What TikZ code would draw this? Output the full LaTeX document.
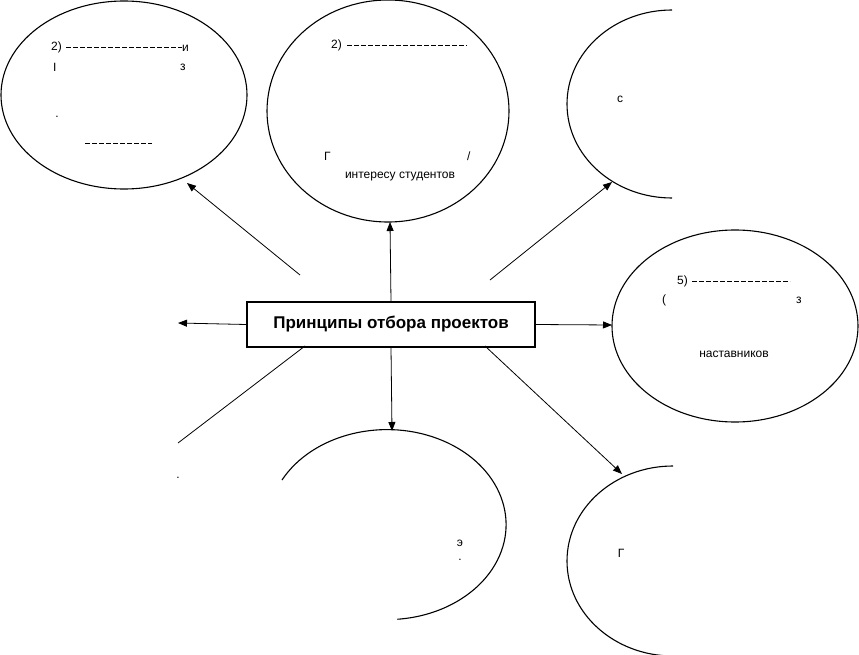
\documentclass[tikz,border=0pt]{standalone}
\usepackage{fontspec}
\setmainfont{Liberation Sans}
\usetikzlibrary{arrows.meta}
\begin{document}
\begin{tikzpicture}[x=1pt,y=-1pt,
  ell/.style={line width=1.1pt},
  conn/.style={line width=0.8pt},
  arr/.style={conn,-{Triangle[length=9pt,width=7pt]}},
  box/.style={draw,line width=1.3pt,minimum width=288pt,minimum height=45pt,inner sep=0pt,font=\bfseries\fontsize{17}{20}\selectfont},
  frag/.style={inner sep=0pt,font=\fontsize{12}{14}\selectfont},
  dashline/.style={dash pattern=on 5pt off 2pt,line width=0.7pt}]
\useasboundingbox (0,0) rectangle (859,655);
% central box
\node[box] (c) at (391,324.5) {Принципы отбора проектов};
% ellipses
\draw[ell] (124,95) ellipse [x radius=123,y radius=94];
\coordinate (e1) at (187,183);
\draw[ell] (388,111) ellipse [x radius=121,y radius=111];
\coordinate (e2) at (390,222);
\draw[ell] (672,10) arc[start angle=270,end angle=90,x radius=105,y radius=94];
\coordinate (e3) at (612,182);
\draw[ell] (735,326) ellipse [x radius=123,y radius=96];
\coordinate (e4) at (612,325);
\coordinate (e5) at (178,323);
\draw[ell] (282,480) arc[start angle=208,end angle=445,x radius=119,y radius=95];
\coordinate (e6) at (392,431);
\draw[ell] (673,466) arc[start angle=270,end angle=90,x radius=106,y radius=95];
\coordinate (e7) at (622,474);
\coordinate (e8) at (178,443);
% connectors
\draw[arr] (300,275) -- (e1);
\draw[arr] (c.north) -- (e2);
\draw[arr] (490,280) -- (e3);
\draw[arr] (c.east) -- (e4);
\draw[arr] (c.west) -- (e5);
\draw[arr] (c.south) -- (e6);
\draw[arr] (485,346) -- (e7);
\draw[conn] (305,346) -- (e8);
% text fragments
\node[frag,anchor=west] (t1a) at (51,47) {2)};
\draw[dashline] (66,47) -- (182,47);
\node[frag,anchor=west] (t1b) at (182,48) {и};
\node[frag,anchor=west] (t1c) at (53,67) {I};
\node[frag,anchor=west] (t1d) at (180,67) {з};
\node[frag] (t1e) at (57,117) {.};
\draw[dashline] (85,143) -- (152,143);
\node[frag,anchor=west] (t2a) at (331,45) {2)};
\draw[dashline] (347,45) -- (467,45);
\node[frag,anchor=west] (t2b) at (324,156) {Г};
\node[frag,anchor=west] (t2c) at (467,156) {/};
\node[frag] (t2d) at (400,177) {интересу студентов};
\node[frag] (t3a) at (620,99) {с};
\node[frag,anchor=west] (t4a) at (677,281) {5)};
\draw[dashline] (692,281) -- (790,281);
\node[frag,anchor=west] (t4b) at (662,300) {(};
\node[frag,anchor=west] (t4c) at (796,300) {з};
\node[frag] (t4d) at (734,354) {наставников};
\node[frag] (t6a) at (460,543) {э};
\node[frag] (t6b) at (460,560) {.};
\node[frag] (t7a) at (621,553) {Г};
\node[frag] (t8a) at (178,478) {.};
\end{tikzpicture}
\end{document}
